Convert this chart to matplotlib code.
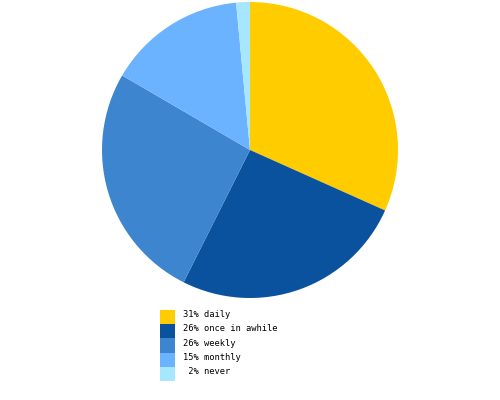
import matplotlib
matplotlib.use("Agg")
import matplotlib.pyplot as plt
from matplotlib.patches import Rectangle

# survey shares, clockwise from 12 o'clock
categories = ["daily", "once in awhile", "weekly", "monthly", "never"]
values = [31.7, 25.7, 26.0, 15.1, 1.5]
pct_labels = ["31%", "26%", "26%", "15%", " 2%"]
colors = ["#FFCC00", "#0A529E", "#3D85CF", "#6BB3FF", "#A6E6FF"]

fig = plt.figure(figsize=(5, 4), dpi=100)
fig.patch.set_facecolor("white")

# pie centred at (250,150) px with radius ~148 px
ax = fig.add_axes([102 / 500, 102 / 400, 296 / 500, 296 / 400])
ax.pie(values, colors=colors, startangle=90, counterclock=False,
       wedgeprops=dict(linewidth=0), radius=1.0)
ax.set_xlim(-1, 1)
ax.set_ylim(-1, 1)
ax.set_aspect("equal")
ax.axis("off")

# legend below the pie
row_top = 310
row_h = 14.2
for i, (p, cat, c) in enumerate(zip(pct_labels, categories, colors)):
    y0 = row_top + i * row_h
    fig.add_artist(Rectangle((160 / 500, 1 - (y0 + row_h) / 400), 15 / 500, row_h / 400,
                             transform=fig.transFigure, facecolor=c, edgecolor="none"))
    fig.text(183 / 500, 1 - (y0 + row_h / 2 - 2.5) / 400, p + " " + cat,
             family="DejaVu Sans Mono", fontsize=6.3, va="center", ha="left", color="black")

fig.savefig("out.png", dpi=100)
